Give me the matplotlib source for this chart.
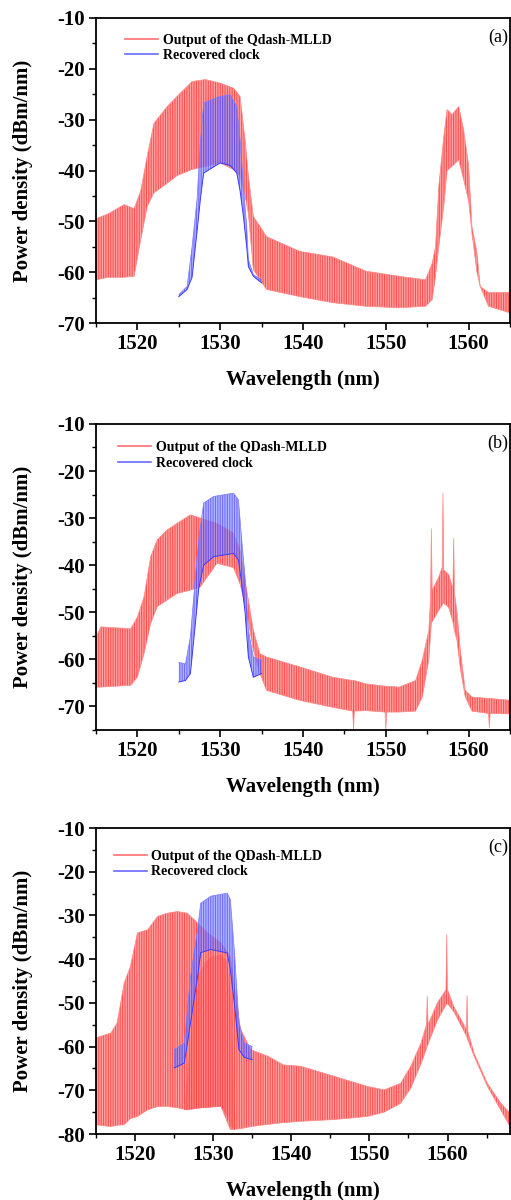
import matplotlib
matplotlib.use("Agg")
import matplotlib.pyplot as plt
from matplotlib.lines import Line2D
from matplotlib.ticker import MultipleLocator

# ---------------- data (envelopes) ----------------
# Panel (a)
a_red_wl = [1515.0, 1516.5, 1518.4, 1519.6, 1520.4, 1521.2, 1522.0, 1523.6, 1524.8, 1526.6, 1528.2,
            1530.0, 1531.6, 1532.4, 1533.0, 1533.4, 1534.0, 1535.6, 1539.6, 1543.6, 1547.6, 1551.6,
            1554.8, 1555.6, 1556.0, 1556.4, 1557.0, 1557.4, 1558.0, 1558.8, 1559.4, 1560.0, 1560.4,
            1561.0, 1561.4, 1562.4, 1565.0]
a_red_hi = [-49.5, -48.5, -46.7, -47.5, -44.0, -37.0, -30.7, -27.4, -25.4, -22.5, -22.1,
            -22.8, -23.8, -25.4, -33.9, -41.0, -49.0, -53.0, -55.9, -57.0, -59.8, -60.8,
            -61.5, -58.2, -55.0, -43.0, -33.3, -28.0, -29.0, -27.4, -32.0, -39.0, -51.0,
            -56.0, -62.8, -64.0, -64.0]
a_red_lo = [-61.5, -61.0, -61.0, -60.8, -53.6, -47.0, -44.4, -42.5, -41.0, -39.8, -39.2,
            -38.5, -39.8, -41.0, -45.0, -48.4, -59.5, -63.4, -64.8, -66.0, -66.7, -67.0,
            -66.7, -65.4, -60.8, -55.0, -47.0, -40.0, -39.2, -37.9, -41.8, -46.0, -52.3,
            -60.0, -62.8, -66.7, -68.0]
a_blue_wl = [1525.0, 1526.0, 1526.6, 1527.2, 1527.6, 1528.0, 1530.0, 1531.2, 1532.0, 1532.4, 1532.8,
             1533.2, 1533.4, 1534.0, 1535.0]
a_blue_hi = [-64.4, -62.8, -55.0, -45.7, -34.6, -26.7, -25.4, -25.1, -27.4, -34.0, -43.0,
             -51.0, -57.5, -60.5, -61.5]
a_blue_lo = [-64.8, -63.4, -61.0, -52.0, -45.7, -40.5, -38.5, -39.0, -40.5, -44.0, -49.0,
             -55.0, -58.9, -60.8, -62.1]

# Panel (b)
b_red_wl = [1515.0, 1515.6, 1519.2, 1520.0, 1520.8, 1521.6, 1522.4, 1523.6, 1524.8, 1526.4, 1527.6,
            1529.6, 1531.6, 1532.4, 1533.2, 1534.0, 1534.8, 1535.6, 1539.6, 1543.6, 1546.0, 1546.1,
            1546.2, 1547.6, 1549.9, 1550.0, 1550.1, 1551.6, 1553.6, 1554.4, 1555.2, 1555.4, 1555.5,
            1555.6, 1556.4, 1556.8, 1556.9, 1557.0, 1557.6, 1558.1, 1558.2, 1558.3, 1558.6, 1559.0,
            1559.6, 1560.4, 1562.4, 1562.5, 1562.6, 1565.0]
b_red_hi = [-55.2, -53.1, -53.5, -51.0, -46.7, -38.2, -34.6, -32.5, -31.1, -29.3, -30.0,
            -31.1, -33.2, -36.8, -45.3, -53.8, -58.8, -59.5, -61.6, -63.8, -64.5, -64.5,
            -64.5, -65.2, -65.7, -65.7, -65.7, -65.9, -64.5, -60.2, -53.8, -47.0, -32.3,
            -45.3, -42.5, -40.5, -24.7, -41.0, -42.0, -45.0, -34.3, -46.0, -50.0, -58.1,
            -66.6, -68.0, -68.3, -68.3, -68.3, -68.7]
b_red_lo = [-65.9, -65.9, -65.5, -63.8, -58.8, -52.4, -48.8, -47.4, -46.0, -45.3, -44.6,
            -39.6, -40.5, -44.0, -50.0, -58.0, -63.0, -66.6, -68.7, -70.2, -71.0, -75.0,
            -71.0, -70.9, -71.2, -75.0, -71.2, -71.2, -71.0, -68.0, -60.0, -55.0, -52.4,
            -52.0, -49.6, -48.5, -48.1, -48.1, -49.0, -52.0, -53.0, -54.0, -56.0, -62.0,
            -68.0, -71.0, -71.5, -74.5, -71.5, -71.6]
b_blue_wl = [1525.0, 1525.8, 1526.4, 1527.0, 1527.4, 1528.0, 1529.2, 1531.6, 1532.2, 1532.6, 1533.0,
             1533.4, 1534.0, 1535.0]
b_blue_hi = [-60.6, -61.0, -55.2, -42.5, -34.6, -26.8, -25.4, -24.7, -26.1, -34.6, -42.5,
             -53.8, -59.5, -60.2]
b_blue_lo = [-64.8, -64.5, -63.0, -52.4, -45.0, -40.0, -38.2, -37.5, -38.9, -44.0, -50.0,
             -59.5, -63.8, -63.0]

# Panel (c)
c_red_wl = [1515.0, 1516.9, 1517.7, 1518.6, 1519.4, 1520.3, 1521.6, 1522.9, 1524.1, 1525.4, 1526.7,
            1528.0, 1529.3, 1531.0, 1532.2, 1533.5, 1534.8, 1537.0, 1539.0, 1541.2, 1545.5, 1549.7,
            1551.9, 1554.0, 1555.3, 1556.6, 1557.3, 1557.4, 1557.5, 1558.7, 1559.8, 1559.9, 1560.0,
            1560.8, 1562.4, 1562.5, 1562.6, 1563.4, 1565.1, 1566.8, 1568.0]
c_red_hi = [-58.0, -56.9, -54.6, -45.5, -41.7, -34.0, -33.3, -30.2, -29.5, -29.1, -29.5,
            -31.7, -34.0, -36.3, -39.4, -56.0, -60.7, -62.2, -64.2, -64.5, -66.8, -69.1,
            -69.9, -68.4, -64.5, -59.2, -55.0, -48.5, -55.0, -50.0, -47.0, -34.4, -47.0,
            -50.8, -56.0, -48.3, -56.5, -61.5, -68.4, -72.9, -75.2]
c_red_lo = [-77.9, -78.3, -78.0, -77.9, -76.5, -76.0, -74.5, -73.7, -73.7, -74.0, -74.5,
            -74.1, -73.9, -73.7, -79.0, -78.8, -78.3, -77.8, -77.4, -77.1, -76.7, -76.0,
            -75.0, -73.0, -69.5, -64.0, -60.5, -60.0, -59.5, -54.0, -50.5, -50.3, -50.2,
            -52.0, -57.5, -58.0, -58.5, -62.2, -69.1, -74.5, -78.3]
c_dome_wl = [1526.3, 1527.2, 1528.0, 1529.0, 1530.0, 1531.0, 1531.8, 1532.3, 1532.8]
c_dome_hi = [-74.5, -55.0, -44.0, -40.5, -39.2, -39.0, -40.5, -48.0, -76.0]
c_dome_lo = [-74.5, -74.3, -74.1, -74.0, -73.8, -73.7, -76.0, -78.5, -79.0]
c_blue_wl = [1525.0, 1526.3, 1527.1, 1528.0, 1528.4, 1529.7, 1531.8, 1532.2, 1532.7, 1533.3, 1534.0,
             1535.0]
c_blue_hi = [-60.7, -59.2, -44.0, -33.3, -27.2, -25.6, -24.9, -26.4, -37.8, -54.6, -59.2,
             -60.0]
c_blue_lo = [-64.9, -63.8, -54.6, -44.0, -38.5, -37.8, -38.6, -42.4, -50.0, -60.7, -62.5,
             -63.0]

panel_labels = ["(a)", "(b)", "(c)"]
red_labels = ["Output of the Qdash-MLLD", "Output of the QDash-MLLD", "Output of the QDash-MLLD"]
blue_label = "Recovered clock"
xlims = [(1515, 1565), (1515, 1565), (1515, 1568)]
ylims = [(-70, -10), (-75, -10), (-80, -10)]
xticks = [1520, 1530, 1540, 1550, 1560]

# ---------------- styling ----------------
plt.rcParams['font.family'] = ['Liberation Serif', 'DejaVu Serif']
plt.rcParams['axes.unicode_minus'] = False
plt.rcParams['hatch.linewidth'] = 0.8

fig = plt.figure(figsize=(5.11, 12), dpi=100)
rects = [[0.1879, 0.7308, 0.8102, 0.2542],
         [0.1879, 0.3917, 0.8102, 0.2550],
         [0.1879, 0.0550, 0.8102, 0.2550]]
legend_anchor = [(0.040, 0.990), (0.023, 0.986), (0.013, 0.970)]

red_face = '#ffa3a3'
red_hatch = '#ff5050'
blue_face = '#8c8cff'
blue_hatch = '#4040ff'

panels = [
    (a_red_wl, a_red_hi, a_red_lo, a_blue_wl, a_blue_hi, a_blue_lo, None),
    (b_red_wl, b_red_hi, b_red_lo, b_blue_wl, b_blue_hi, b_blue_lo, None),
    (c_red_wl, c_red_hi, c_red_lo, c_blue_wl, c_blue_hi, c_blue_lo, (c_dome_wl, c_dome_lo, c_dome_hi)),
]

for i, (rw, rh, rl, bw, bh, bl, dome) in enumerate(panels):
    ax = fig.add_axes(rects[i])
    ax.fill_between(rw, rl, rh, facecolor=red_face, edgecolor=red_hatch, hatch='|||||||',
                    linewidth=0, zorder=2)
    ax.plot(rw, rh, color='#ff8a8a', lw=0.5, zorder=2)
    ax.plot(rw, rl, color='#ff8a8a', lw=0.5, zorder=2)
    if dome is not None:
        ax.fill_between(dome[0], dome[1], dome[2], facecolor='#ff8585',
                        edgecolor='#ff4545', hatch='|||||||', linewidth=0, zorder=2.5)
    ax.fill_between(bw, bl, bh, facecolor=blue_face, edgecolor=blue_hatch, hatch='|||||||',
                    linewidth=0, alpha=0.62, zorder=3)
    ax.plot(bw, bh, color='#7a7aff', lw=0.5, zorder=3)
    ax.plot(bw, bl, color='#3a3aff', lw=0.7, zorder=3)

    ax.set_xlim(*xlims[i])
    ax.set_ylim(*ylims[i])
    ax.set_xticks(xticks)
    ymin = ylims[i][0] if ylims[i][0] % 10 == 0 else ylims[i][0] + 5
    ax.set_yticks(list(range(ymin, -9, 10)))
    ax.xaxis.set_minor_locator(MultipleLocator(5))
    ax.yaxis.set_minor_locator(MultipleLocator(5))
    ax.tick_params(which='major', direction='out', length=5, width=1.2, labelsize=15, pad=3)
    ax.tick_params(which='minor', direction='out', length=3, width=1.0)
    for lab in ax.get_xticklabels() + ax.get_yticklabels():
        lab.set_fontweight('bold')
    for s in ax.spines.values():
        s.set_linewidth(1.3)

    ax.set_xlabel('Wavelength (nm)', fontsize=15, fontweight='bold')
    ax.set_ylabel('Power density (dBm/nm)', fontsize=15, fontweight='bold')
    ax.xaxis.set_label_coords(0.5, -0.155)
    ax.yaxis.set_label_coords(-0.152, 0.5)

    handles = [Line2D([0], [0], color='#ff7070', lw=1.2),
               Line2D([0], [0], color='#6a6aff', lw=1.2)]
    ax.legend(handles, [red_labels[i], blue_label], loc='upper left',
              bbox_to_anchor=legend_anchor[i], frameon=False,
              prop={'weight': 'bold', 'size': 10}, handlelength=2.4, handletextpad=0.3,
              labelspacing=0.2)
    ax.text(0.995, 0.965, panel_labels[i], transform=ax.transAxes, ha='right', va='top',
            fontsize=13)

fig.savefig('out.png', dpi=100)
